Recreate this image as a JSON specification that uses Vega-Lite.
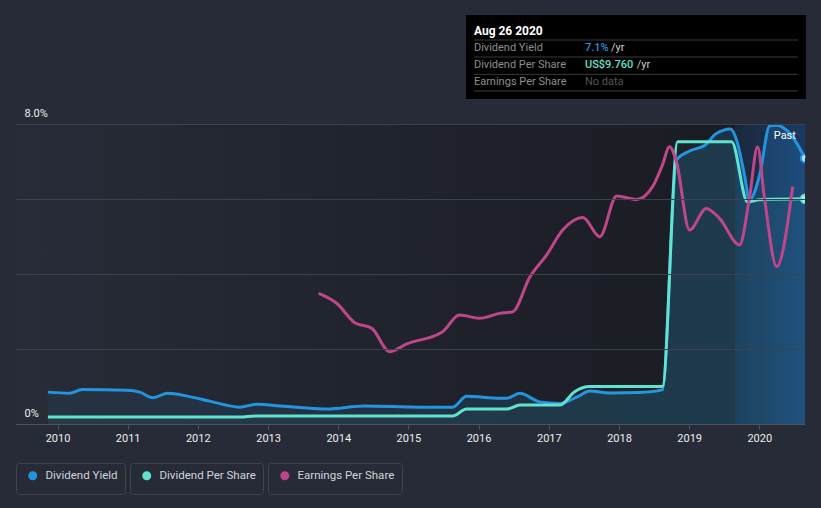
{
  "$schema": "https://vega.github.io/schema/vega-lite/v6.json",
  "width": 789,
  "height": 300,
  "autosize": "none",
  "padding": {"left": 16, "top": 124, "right": 16, "bottom": 84},
  "background": "#262b37",
  "config": {
    "view": {"stroke": null},
    "font": "Roboto",
    "legend": {"layout": {"bottom": {"anchor": "start", "margin": 5}}}
  },
  "datasets": {
    "yield": [
      {"date": "2009-11-12", "value": 0.85},
      {"date": "2010-03-06", "value": 0.82},
      {"date": "2010-05-08", "value": 0.92},
      {"date": "2010-12-28", "value": 0.90},
      {"date": "2011-03-05", "value": 0.85},
      {"date": "2011-05-12", "value": 0.70},
      {"date": "2011-07-28", "value": 0.82},
      {"date": "2011-11-20", "value": 0.73},
      {"date": "2012-03-03", "value": 0.61},
      {"date": "2012-08-07", "value": 0.45},
      {"date": "2012-11-03", "value": 0.53},
      {"date": "2013-03-03", "value": 0.48},
      {"date": "2013-06-15", "value": 0.44},
      {"date": "2013-11-02", "value": 0.40},
      {"date": "2014-05-18", "value": 0.48},
      {"date": "2015-03-01", "value": 0.45},
      {"date": "2015-08-19", "value": 0.45},
      {"date": "2015-10-31", "value": 0.74},
      {"date": "2016-04-20", "value": 0.69},
      {"date": "2016-05-27", "value": 0.69},
      {"date": "2016-08-03", "value": 0.82},
      {"date": "2016-11-15", "value": 0.59},
      {"date": "2017-02-27", "value": 0.55},
      {"date": "2017-05-31", "value": 0.73},
      {"date": "2017-08-02", "value": 0.88},
      {"date": "2017-11-14", "value": 0.83},
      {"date": "2018-04-17", "value": 0.84},
      {"date": "2018-08-15", "value": 0.91},
      {"date": "2018-10-27", "value": 7.04},
      {"date": "2019-01-03", "value": 7.28},
      {"date": "2019-03-27", "value": 7.44},
      {"date": "2019-05-18", "value": 7.73},
      {"date": "2019-08-05", "value": 7.87},
      {"date": "2019-09-05", "value": 7.57},
      {"date": "2019-10-16", "value": 6.64},
      {"date": "2019-11-11", "value": 5.97},
      {"date": "2020-01-03", "value": 6.64},
      {"date": "2020-02-24", "value": 7.95},
      {"date": "2020-04-01", "value": 7.97},
      {"date": "2020-06-08", "value": 7.75},
      {"date": "2020-08-26", "value": 7.09}
    ],
    "dps": [
      {"date": "2009-11-12", "value": 0.30},
      {"date": "2012-08-07", "value": 0.30},
      {"date": "2012-10-24", "value": 0.35},
      {"date": "2015-08-19", "value": 0.35},
      {"date": "2015-10-31", "value": 0.65},
      {"date": "2016-05-27", "value": 0.65},
      {"date": "2016-08-03", "value": 0.82},
      {"date": "2017-02-27", "value": 0.82},
      {"date": "2017-05-15", "value": 1.40},
      {"date": "2017-08-02", "value": 1.62},
      {"date": "2018-08-15", "value": 1.62},
      {"date": "2018-11-02", "value": 12.23},
      {"date": "2019-08-10", "value": 12.23},
      {"date": "2019-11-01", "value": 9.62},
      {"date": "2020-01-03", "value": 9.72},
      {"date": "2020-08-26", "value": 9.76}
    ],
    "eps": [
      {"date": "2013-09-21", "value": 6.97},
      {"date": "2013-12-24", "value": 6.44},
      {"date": "2014-03-28", "value": 5.40},
      {"date": "2014-06-25", "value": 5.10},
      {"date": "2014-09-26", "value": 3.86},
      {"date": "2014-12-23", "value": 4.27},
      {"date": "2015-06-28", "value": 4.92},
      {"date": "2015-09-24", "value": 5.81},
      {"date": "2016-01-07", "value": 5.64},
      {"date": "2016-04-20", "value": 5.90},
      {"date": "2016-06-27", "value": 5.99},
      {"date": "2016-09-24", "value": 7.84},
      {"date": "2016-12-20", "value": 9.01},
      {"date": "2017-03-14", "value": 10.35},
      {"date": "2017-06-27", "value": 11.02},
      {"date": "2017-09-23", "value": 9.99},
      {"date": "2017-12-20", "value": 12.16},
      {"date": "2018-04-03", "value": 11.98},
      {"date": "2018-06-25", "value": 12.66},
      {"date": "2018-08-15", "value": 13.81},
      {"date": "2018-09-21", "value": 14.79},
      {"date": "2018-10-27", "value": 13.99},
      {"date": "2019-01-03", "value": 10.35},
      {"date": "2019-04-01", "value": 11.50},
      {"date": "2019-06-08", "value": 10.97},
      {"date": "2019-09-20", "value": 9.55},
      {"date": "2019-11-11", "value": 12.05},
      {"date": "2019-12-23", "value": 14.79},
      {"date": "2020-01-28", "value": 12.05},
      {"date": "2020-04-01", "value": 8.39},
      {"date": "2020-06-23", "value": 12.66}
    ]
  },
  "layer": [
    {
      "layer": [
        {
          "data": {"values": [{}]},
          "mark": {"type": "rect", "fill": {"gradient": "linear", "x1": 0, "x2": 1, "y1": 0, "y2": 0, "stops": [{"offset": 0, "color": "#272c38"}, {"offset": 0.6, "color": "#1e2129"}, {"offset": 1, "color": "#181b22"}]}},
          "encoding": {
            "x": {"datum": {"year": 2009, "month": 5, "date": 30, "utc": true}, "type": "temporal",
              "scale": {"type": "utc", "domain": [{"year": 2009, "month": 5, "date": 30, "utc": true}, {"year": 2020, "month": 8, "date": 26, "utc": true}]},
              "axis": {"title": null, "grid": false, "tickCount": {"interval": "year", "step": 1}, "format": "%Y", "formatType": "utc", "domainColor": "#4f545e", "tickColor": "#4f545e", "tickSize": 5, "labelColor": "#eeeeee", "labelFont": "Roboto", "labelFontSize": 11, "labelPadding": 3, "zindex": 1}},
            "x2": {"datum": {"year": 2020, "month": 8, "date": 26, "utc": true}},
            "y": {"datum": 0, "type": "quantitative",
              "scale": {"domain": [0, 8], "nice": false, "zero": true},
              "axis": {"title": null, "values": [0, 2, 4, 6, 8], "grid": true, "gridColor": "#3c414b", "domain": false, "ticks": false,
                "labelExpr": "datum.value == 8 ? '8.0%' : datum.value == 0 ? '0%' : ''",
                "labelAlign": "left", "labelPadding": -8, "labelBaseline": "alphabetic", "labelOffset": -8,
                "labelColor": "#eeeeee", "labelFont": "Roboto", "labelFontSize": 11, "zindex": 1}},
            "y2": {"datum": 8}
          }
        },
        {
          "data": {"values": [{}]},
          "mark": {"type": "rect", "fill": {"gradient": "linear", "x1": 0, "x2": 1, "y1": 0, "y2": 0, "stops": [{"offset": 0, "color": "rgba(30,95,175,0.18)"}, {"offset": 1, "color": "rgba(30,100,190,0.42)"}]}},
          "encoding": {
            "x": {"datum": {"year": 2019, "month": 8, "date": 28, "utc": true}, "type": "temporal"},
            "x2": {"datum": {"year": 2020, "month": 8, "date": 26, "utc": true}},
            "y": {"datum": 0, "type": "quantitative"},
            "y2": {"datum": 8}
          }
        },
        {
          "data": {"name": "yield"},
          "mark": {"type": "area", "interpolate": "monotone", "fill": {"gradient": "linear", "x1": 0, "x2": 1, "y1": 0, "y2": 0, "stops": [{"offset": 0, "color": "rgba(35,148,223,0.07)"}, {"offset": 1, "color": "rgba(35,148,223,0.2)"}]}},
          "encoding": {
            "x": {"field": "date", "type": "temporal"},
            "y": {"field": "value", "type": "quantitative"}
          }
        },
        {
          "data": {"name": "yield"},
          "mark": {"type": "line", "interpolate": "monotone", "strokeWidth": 3},
          "encoding": {
            "x": {"field": "date", "type": "temporal"},
            "y": {"field": "value", "type": "quantitative"},
            "stroke": {"datum": "Dividend Yield", "type": "nominal", "scale": {"range": ["#2394df"]},
              "legend": {"title": null, "orient": "bottom", "symbolType": "circle", "symbolSize": 20, "symbolStrokeWidth": 4.5, "symbolFillColor": "#2394df", "strokeColor": "#3e434e", "cornerRadius": 3, "padding": 7, "labelColor": "#d0d3d9", "labelFont": "Roboto", "labelFontSize": 11.5, "labelOffset": 7, "symbolOffset": 4, "offset": 20}}
          }
        },
        {
          "data": {"name": "yield"},
          "transform": [{"filter": {"field": "date", "gte": {"year": 2020, "month": 8, "date": 1}}}],
          "mark": {"type": "point", "filled": true, "size": 70, "fill": "#b9dcf7", "stroke": "#2394df", "strokeWidth": 2, "opacity": 1, "clip": true},
          "encoding": {
            "x": {"field": "date", "type": "temporal"},
            "y": {"field": "value", "type": "quantitative"}
          }
        },
        {
          "data": {"values": [{}]},
          "mark": {"type": "text", "text": "Past", "color": "#ffffff", "font": "Roboto", "fontSize": 11, "align": "center", "baseline": "middle"},
          "encoding": {
            "x": {"datum": {"year": 2020, "month": 5, "date": 13, "utc": true}, "type": "temporal"},
            "y": {"datum": 7.68, "type": "quantitative"}
          }
        },
        {
          "data": {"values": [{}]},
          "mark": {"type": "rect", "fill": "#000000", "clip": false},
          "encoding": {
            "x": {"datum": {"year": 2015, "month": 10, "date": 28, "utc": true}, "type": "temporal"},
            "x2": {"datum": {"year": 2020, "month": 8, "date": 31, "utc": true}},
            "y": {"datum": 8.667, "type": "quantitative"},
            "y2": {"datum": 10.907}
          }
        },
        {
          "data": {"values": [{}]},
          "mark": {"type": "rule", "stroke": "#3a3a3a", "strokeWidth": 1, "clip": false},
          "encoding": {
            "x": {"datum": {"year": 2015, "month": 12, "date": 8, "utc": true}, "type": "temporal"},
            "x2": {"datum": {"year": 2020, "month": 7, "date": 20, "utc": true}},
            "y": {"datum": 10.24, "type": "quantitative"}
          }
        },
        {
          "data": {"values": [{}]},
          "mark": {"type": "rule", "stroke": "#3a3a3a", "strokeWidth": 1, "clip": false},
          "encoding": {
            "x": {"datum": {"year": 2015, "month": 12, "date": 8, "utc": true}, "type": "temporal"},
            "x2": {"datum": {"year": 2020, "month": 7, "date": 20, "utc": true}},
            "y": {"datum": 9.787, "type": "quantitative"}
          }
        },
        {
          "data": {"values": [{}]},
          "mark": {"type": "rule", "stroke": "#3a3a3a", "strokeWidth": 1, "clip": false},
          "encoding": {
            "x": {"datum": {"year": 2015, "month": 12, "date": 8, "utc": true}, "type": "temporal"},
            "x2": {"datum": {"year": 2020, "month": 7, "date": 20, "utc": true}},
            "y": {"datum": 9.325, "type": "quantitative"}
          }
        },
        {
          "data": {"values": [{}]},
          "mark": {"type": "rule", "stroke": "#3a3a3a", "strokeWidth": 1, "clip": false},
          "encoding": {
            "x": {"datum": {"year": 2015, "month": 12, "date": 8, "utc": true}, "type": "temporal"},
            "x2": {"datum": {"year": 2020, "month": 7, "date": 20, "utc": true}},
            "y": {"datum": 8.88, "type": "quantitative"}
          }
        },
        {
          "data": {"values": [{}]},
          "mark": {"type": "text", "text": "Aug 26 2020", "color": "#ffffff", "font": "Roboto", "fontSize": 12, "fontWeight": "bold", "align": "left", "baseline": "middle", "clip": false},
          "encoding": {
            "x": {"datum": {"year": 2015, "month": 12, "date": 8, "utc": true}, "type": "temporal"},
            "y": {"datum": 10.48, "type": "quantitative"}
          }
        },
        {
          "data": {"values": [{}]},
          "mark": {"type": "text", "text": "Dividend Yield", "color": "#8e8e8e", "font": "Roboto", "fontSize": 11, "align": "left", "baseline": "middle", "clip": false},
          "encoding": {
            "x": {"datum": {"year": 2015, "month": 12, "date": 8, "utc": true}, "type": "temporal"},
            "y": {"datum": 10.019, "type": "quantitative"}
          }
        },
        {
          "data": {"values": [{}]},
          "mark": {"type": "text", "text": "Dividend Per Share", "color": "#8e8e8e", "font": "Roboto", "fontSize": 11, "align": "left", "baseline": "middle", "clip": false},
          "encoding": {
            "x": {"datum": {"year": 2015, "month": 12, "date": 8, "utc": true}, "type": "temporal"},
            "y": {"datum": 9.573, "type": "quantitative"}
          }
        },
        {
          "data": {"values": [{}]},
          "mark": {"type": "text", "text": "Earnings Per Share", "color": "#8e8e8e", "font": "Roboto", "fontSize": 11, "align": "left", "baseline": "middle", "clip": false},
          "encoding": {
            "x": {"datum": {"year": 2015, "month": 12, "date": 8, "utc": true}, "type": "temporal"},
            "y": {"datum": 9.12, "type": "quantitative"}
          }
        },
        {
          "data": {"values": [{}]},
          "mark": {"type": "text", "text": "7.1%", "color": "#2394df", "font": "Roboto", "fontSize": 11, "fontWeight": 500, "align": "left", "baseline": "middle", "clip": false},
          "encoding": {
            "x": {"datum": {"year": 2017, "month": 7, "date": 8, "utc": true}, "type": "temporal"},
            "y": {"datum": 10.019, "type": "quantitative"}
          }
        },
        {
          "data": {"values": [{}]},
          "mark": {"type": "text", "text": "US$9.760", "color": "#61e2cf", "font": "Roboto", "fontSize": 11, "fontWeight": 500, "align": "left", "baseline": "middle", "clip": false},
          "encoding": {
            "x": {"datum": {"year": 2017, "month": 7, "date": 8, "utc": true}, "type": "temporal"},
            "y": {"datum": 9.573, "type": "quantitative"}
          }
        },
        {
          "data": {"values": [{}]},
          "mark": {"type": "text", "text": "No data", "color": "#555555", "font": "Roboto", "fontSize": 11, "align": "left", "baseline": "middle", "clip": false},
          "encoding": {
            "x": {"datum": {"year": 2017, "month": 7, "date": 8, "utc": true}, "type": "temporal"},
            "y": {"datum": 9.12, "type": "quantitative"}
          }
        },
        {
          "data": {"values": [{}]},
          "mark": {"type": "text", "text": "/yr", "color": "#cfcfcf", "font": "Roboto", "fontSize": 11, "align": "left", "baseline": "middle", "clip": false},
          "encoding": {
            "x": {"datum": {"year": 2017, "month": 11, "date": 20, "utc": true}, "type": "temporal"},
            "y": {"datum": 10.019, "type": "quantitative"}
          }
        },
        {
          "data": {"values": [{}]},
          "mark": {"type": "text", "text": "/yr", "color": "#cfcfcf", "font": "Roboto", "fontSize": 11, "align": "left", "baseline": "middle", "clip": false},
          "encoding": {
            "x": {"datum": {"year": 2018, "month": 4, "date": 3, "utc": true}, "type": "temporal"},
            "y": {"datum": 9.573, "type": "quantitative"}
          }
        }
      ]
    },
    {
      "data": {"name": "dps"},
      "layer": [
        {
          "mark": {"type": "area", "interpolate": "monotone", "fill": "#61e2cf", "fillOpacity": 0.04},
          "encoding": {
            "x": {"field": "date", "type": "temporal"},
            "y": {"field": "value", "type": "quantitative", "scale": {"domain": [0, 13], "nice": false}, "axis": null}
          }
        },
        {
          "mark": {"type": "line", "interpolate": "monotone", "strokeWidth": 3},
          "encoding": {
            "x": {"field": "date", "type": "temporal"},
            "y": {"field": "value", "type": "quantitative"},
            "stroke": {"datum": "Dividend Per Share", "type": "nominal", "scale": {"range": ["#61e2cf"]},
              "legend": {"title": null, "orient": "bottom", "symbolType": "circle", "symbolSize": 20, "symbolStrokeWidth": 4.5, "symbolFillColor": "#61e2cf", "strokeColor": "#3e434e", "cornerRadius": 3, "padding": 7, "labelColor": "#d0d3d9", "labelFont": "Roboto", "labelFontSize": 11.5, "labelOffset": 7, "symbolOffset": 4, "offset": 20}}
          }
        },
        {
          "transform": [{"filter": {"field": "date", "gte": {"year": 2020, "month": 8, "date": 1}}}],
          "mark": {"type": "point", "filled": true, "size": 70, "fill": "#a6efe5", "stroke": "#61e2cf", "strokeWidth": 2, "opacity": 1, "clip": true},
          "encoding": {
            "x": {"field": "date", "type": "temporal"},
            "y": {"field": "value", "type": "quantitative"}
          }
        }
      ]
    },
    {
      "data": {"name": "eps"},
      "mark": {"type": "line", "interpolate": "monotone", "strokeWidth": 3},
      "encoding": {
        "x": {"field": "date", "type": "temporal"},
        "y": {"field": "value", "type": "quantitative", "scale": {"domain": [0, 16], "nice": false}, "axis": null},
        "stroke": {"datum": "Earnings Per Share", "type": "nominal", "scale": {"range": ["#c0468a"]},
          "legend": {"title": null, "orient": "bottom", "symbolType": "circle", "symbolSize": 20, "symbolStrokeWidth": 4.5, "symbolFillColor": "#c0468a", "strokeColor": "#3e434e", "cornerRadius": 3, "padding": 7, "labelColor": "#d0d3d9", "labelFont": "Roboto", "labelFontSize": 11.5, "labelOffset": 7, "symbolOffset": 4, "offset": 20}}
      }
    }
  ],
  "resolve": {"scale": {"y": "independent", "stroke": "independent"}, "legend": {"stroke": "independent"}}
}
